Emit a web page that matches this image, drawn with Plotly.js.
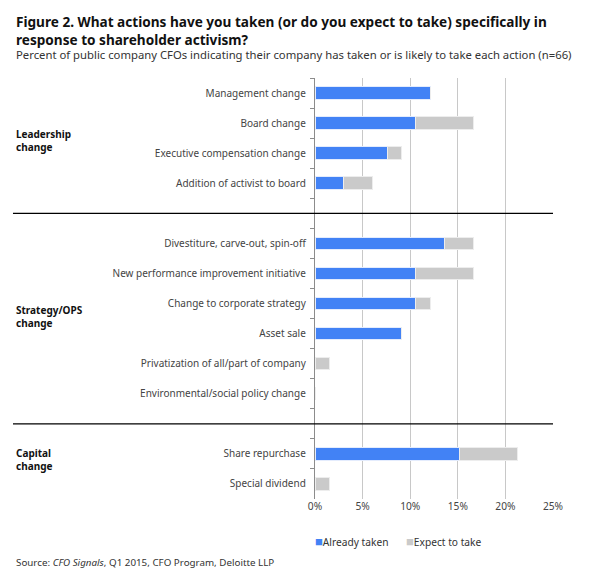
<!DOCTYPE html>
<html>
<head>
<meta charset="utf-8">
<script src="https://cdn.plot.ly/plotly-3.0.1.min.js"></script>
<style>html,body{margin:0;padding:0;background:#fff;}#chart{width:593px;height:576px;}</style>
</head>
<body>
<div id="chart"></div>
<script>
// Categories top to bottom (whitespace entries are spacer rows between groups)
var categories = [
  "Management change",
  "Board change",
  "Executive compensation change",
  "Addition of activist to board",
  " ",
  "Divestiture, carve-out, spin-off",
  "New performance improvement initiative",
  "Change to corporate strategy",
  "Asset sale",
  "Privatization of all/part of company",
  "Environmental/social policy change",
  "  ",
  "Share repurchase",
  "Special dividend"
];
var alreadyTaken = [12.1, 10.6, 7.6, 3.0, null, 13.6, 10.6, 10.6, 9.1, 0, 0, null, 15.2, 0];
var expectToTake = [0, 6.1, 1.5, 3.0, null, 3.0, 6.1, 1.5, 0, 1.5, 0, null, 6.1, 1.5];
var seriesNames = ["Already taken", "Expect to take"];
var groupLabels = ["Leadership<br>change", "Strategy/OPS<br>change", "Capital<br>change"];
var groupAnchors = ["Board change", "Change to corporate strategy", "Share repurchase"];
var dividers = [" ", "  "];
var xTickVals = [0, 5, 10, 15, 20, 25];
var xTickText = ["0%", "5%", "10%", "15%", "20%", "25%"];

var FONT = "Noto Sans, Open Sans, sans-serif";
var COLORS = ["#4282F5", "#CACACA"];
var LEFT = -1.265; // paper x of the left text edge

var traces = [
  {
    type: "bar", orientation: "h", name: seriesNames[0],
    y: categories, x: alreadyTaken,
    marker: {color: COLORS[0], line: {color: "#E4ECFD", width: 1}},
    hoverinfo: "x+y"
  },
  {
    type: "bar", orientation: "h", name: seriesNames[1],
    y: categories, x: expectToTake,
    marker: {color: COLORS[1], line: {color: "#EDEDED", width: 1}},
    hoverinfo: "x+y"
  }
];

var shapes = dividers.map(function (d) {
  return {type: "line", xref: "paper", yref: "y", x0: -1.269, x1: 1, y0: d, y1: d,
          line: {color: "#000", width: 1.2}};
});

var groupShifts = [-17, -13, -6];
var annotations = [];
groupLabels.forEach(function (g, i) {
  annotations.push({
    text: "<b>" + g + "</b>", xref: "paper", yref: "y", x: LEFT, y: groupAnchors[i],
    yshift: groupShifts[i],
    xanchor: "left", yanchor: "middle", align: "left", showarrow: false,
    font: {family: FONT, size: 10, color: "#111"}
  });
});
// Title, subtitle, source
annotations.push({
  text: "<b>Figure 2. What actions have you taken (or do you expect to take) specifically in<br>response to shareholder activism?</b>",
  xref: "paper", yref: "paper", x: LEFT, y: 1.162, xanchor: "left", yanchor: "top", align: "left",
  showarrow: false, font: {family: FONT, size: 13.6, color: "#111"}
});
annotations.push({
  text: "Percent of public company CFOs indicating their company has taken or is likely to take each action (n=66)",
  xref: "paper", yref: "paper", x: LEFT, y: 1.057, xanchor: "left", yanchor: "middle", align: "left",
  showarrow: false, font: {family: FONT, size: 11.3, color: "#333"}
});
annotations.push({
  text: "Source: <i>CFO Signals</i>, Q1 2015, CFO Program, Deloitte LLP",
  xref: "paper", yref: "paper", x: LEFT, y: -0.152, xanchor: "left", yanchor: "middle", align: "left",
  showarrow: false, font: {family: FONT, size: 9.8, color: "#333"}
});
// Legend (square marker + label)
var legendX = [-0.008, 0.374];
seriesNames.forEach(function (n, i) {
  annotations.push({
    text: "<span style='color:" + COLORS[i] + ";font-size:13px'>■</span>" + n,
    xref: "paper", yref: "paper", x: legendX[i], y: -0.1, xanchor: "left", yanchor: "middle",
    showarrow: false, font: {family: FONT, size: 10.2, color: "#333"}
  });
});

var layout = {
  width: 593, height: 576,
  margin: {l: 315, r: 40, t: 78, b: 77},
  paper_bgcolor: "#fff", plot_bgcolor: "#fff",
  barmode: "stack", bargap: 0.58,
  font: {family: FONT, size: 10, color: "#444"},
  showlegend: false,
  xaxis: {
    range: [0, 25], tickvals: xTickVals, ticktext: xTickText,
    showgrid: true, gridcolor: "#C8C8C8", gridwidth: 1, zeroline: false,
    showline: false, ticks: "", tickfont: {family: FONT, size: 10.2, color: "#444"},
    fixedrange: true
  },
  yaxis: {
    type: "category", categoryorder: "array", categoryarray: categories,
    autorange: "reversed", showgrid: false, zeroline: false,
    showline: true, linecolor: "#8C8C8C", linewidth: 1.2,
    ticks: "outside", tickson: "boundaries", ticklen: 4, tickcolor: "#8C8C8C",
    ticklabelstandoff: 6,
    tickfont: {family: FONT, size: 10, color: "#444"},
    fixedrange: true
  },
  shapes: shapes,
  annotations: annotations
};

Plotly.newPlot("chart", traces, layout, {displayModeBar: false, staticPlot: true});
</script>
</body>
</html>
